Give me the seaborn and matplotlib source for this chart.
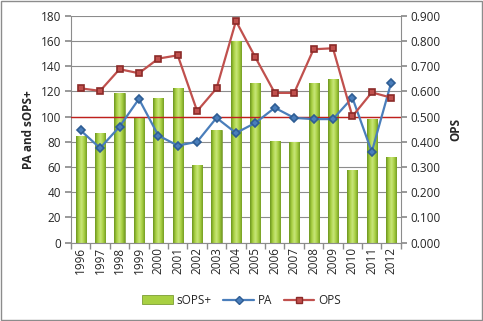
import numpy as np
import pandas as pd
import matplotlib
matplotlib.use("Agg")
import matplotlib.pyplot as plt
import seaborn as sns
from matplotlib.lines import Line2D
from matplotlib.patches import Patch, Rectangle
from matplotlib.colors import LinearSegmentedColormap

years = [str(y) for y in range(1996, 2013)]
sops_plus = [85, 87, 119, 100, 115, 123, 62, 89, 160, 127, 81, 80, 127, 130, 58, 98, 68]
pa = [89, 75, 92, 114, 85, 77, 80, 99, 87, 95, 107, 99, 98, 98, 115, 72, 127]
ops = [0.612, 0.602, 0.688, 0.672, 0.730, 0.743, 0.522, 0.612, 0.879, 0.735,
       0.594, 0.594, 0.767, 0.771, 0.501, 0.596, 0.575]
left_ticks = list(range(0, 181, 20))
right_ticks = [i / 10 for i in range(0, 10)]

df = pd.DataFrame({"year": years, "sOPS+": sops_plus, "PA": pa, "OPS": ops})

sns.set_theme(style="white")
plt.rcParams["font.family"] = ["Open Sans", "DejaVu Sans"]

fig = plt.figure(figsize=(4.83, 3.21), dpi=100)
ax = fig.add_axes([0.147, 0.244, 0.683, 0.707])

sns.barplot(data=df, x="year", y="sOPS+", ax=ax, color="#9BC43A", width=0.52,
            edgecolor="#6A8F1E", linewidth=0.4, zorder=2)

# gradient fill for bars
cmap = LinearSegmentedColormap.from_list("g", ["#6B941E", "#A8D042", "#C8E67A", "#A8D042", "#759E24"])
grad = np.linspace(0, 1, 64).reshape(1, -1)
for p in list(ax.patches):
    x0, y0 = p.get_x(), p.get_y()
    w, h = p.get_width(), p.get_height()
    im = ax.imshow(grad, cmap=cmap, aspect="auto", extent=[x0, x0 + w, y0, y0 + h],
                   zorder=2.1, interpolation="bilinear")
    im.set_clip_path(p)

ax.axhline(100, color="#C0201C", linewidth=1.0, zorder=3)

sns.pointplot(data=df, x="year", y="PA", ax=ax, color="#4A7EBB", markers="D",
              linestyles="-", markersize=4.5, linewidth=1.6, zorder=5)

ax2 = ax.twinx()
sns.pointplot(data=df, x="year", y="OPS", ax=ax2, color="#C0504D", markers="s",
              linestyles="-", markersize=4.8, linewidth=1.6, zorder=6,
              markeredgecolor="#8B2A28")
for l in ax.lines:
    if l.get_marker() == "D":
        l.set_markeredgecolor("#2E5D94")

ax.set_xlim(-0.5, 16.5)
ax2.set_xlim(-0.5, 16.5)
ax.set_ylim(0, 180)
ax2.set_ylim(0, 0.9)
ax.set_yticks(left_ticks)
ax.set_yticklabels([str(t) for t in left_ticks], fontsize=8.5)
ax2.set_yticks(right_ticks)
ax2.set_yticklabels([f"{t:.3f}" for t in right_ticks], fontsize=8.5)
ax.set_xticks(range(len(years)))
ax.set_xticklabels(years, rotation=90, fontsize=8.5)
ax.set_xlabel("")
ax.set_ylabel("PA and sOPS+", fontsize=8.5, fontweight="bold", labelpad=4)
ax2.set_ylabel("OPS", fontsize=8.5, fontweight="bold", rotation=90, labelpad=6)

ax.yaxis.grid(True, color="#8C8C8C", linewidth=0.8, zorder=0)
ax.set_axisbelow(True)
for a in (ax, ax2):
    for s in a.spines.values():
        s.set_visible(False)
ax.spines["left"].set_visible(True)
ax.spines["bottom"].set_visible(True)
ax2.spines["right"].set_visible(True)
for s in (ax.spines["left"], ax.spines["bottom"], ax2.spines["right"]):
    s.set_color("#8C8C8C")
    s.set_linewidth(0.8)

ax.tick_params(axis="y", length=4, color="#8C8C8C", pad=3, left=True)
ax2.tick_params(axis="y", length=4, color="#8C8C8C", pad=3, right=True)
ax.tick_params(axis="x", length=0, pad=3)
ax.set_xticks(np.arange(-0.5, 17, 1), minor=True)
ax.tick_params(axis="x", which="minor", length=4, color="#8C8C8C", bottom=True)

handles = [
    Patch(facecolor="#A8D042", edgecolor="#6A8F1E", linewidth=0.5),
    Line2D([], [], color="#4A7EBB", marker="D", markersize=4, linewidth=1.6, markeredgecolor="#2E5D94"),
    Line2D([], [], color="#C0504D", marker="s", markersize=4.5, linewidth=1.6, markeredgecolor="#8B2A28"),
]
fig.legend(handles, ["sOPS+", "PA", "OPS"], loc="center", bbox_to_anchor=(0.5, 0.065),
           ncol=3, frameon=False, fontsize=8.5, handlelength=2.6, columnspacing=1.0,
           handletextpad=0.3)

fig.patches.append(Rectangle((0.002, 0.003), 0.995, 0.993, transform=fig.transFigure,
                             fill=False, edgecolor="#8C8C8C", linewidth=1.0))

fig.savefig("out.png", dpi=100)
